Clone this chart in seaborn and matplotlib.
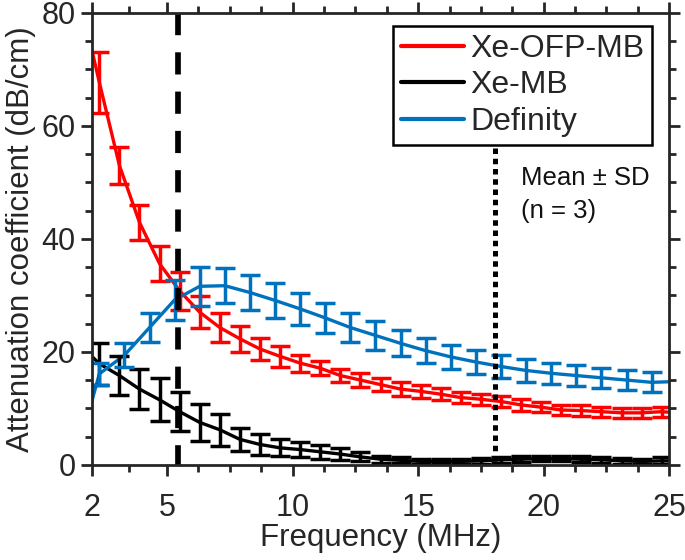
import matplotlib
matplotlib.use('Agg')
import matplotlib.pyplot as plt
from matplotlib.ticker import FixedLocator, MultipleLocator
import pandas as pd
import seaborn as sns

# %% data
freq_rb = [2.3, 3.1, 3.9, 4.7, 5.5, 6.3, 7.1, 7.9, 8.7, 9.5, 10.3, 11.1, 11.9, 12.7, 13.5,
           14.3, 15.1, 15.9, 16.7, 17.5, 18.3, 19.1, 19.9, 20.7, 21.5, 22.3, 23.1, 23.9, 24.7]
ofp_mean = [67.7, 53.0, 42.9, 35.6, 30.8, 27.0, 24.3, 22.3, 20.5, 19.2, 18.0, 17.1, 15.8, 15.0, 14.2,
            13.4, 13.0, 12.5, 11.9, 11.6, 11.2, 10.6, 10.2, 9.7, 9.6, 9.4, 9.2, 9.2, 9.4]
ofp_sd = [5.4, 3.3, 3.1, 3.1, 3.4, 2.8, 2.5, 2.3, 1.9, 1.8, 1.5, 1.2, 1.2, 1.2, 1.2,
          1.2, 1.1, 1.1, 1.0, 1.0, 1.0, 1.0, 0.9, 0.9, 0.9, 0.9, 0.9, 0.9, 0.9]
xemb_mean = [17.9, 15.8, 13.4, 11.5, 9.4, 7.5, 6.2, 4.5, 3.6, 3.0, 2.7, 2.3, 1.9, 1.4, 1.0,
             0.8, 0.6, 0.6, 0.6, 0.7, 0.9, 1.0, 1.1, 1.1, 1.0, 0.9, 0.7, 0.6, 0.7]
xemb_sd = [3.7, 3.5, 3.5, 3.8, 3.5, 3.2, 2.8, 2.1, 1.8, 1.5, 1.3, 1.2, 1.0, 0.8, 0.6,
           0.5, 0.5, 0.5, 0.5, 0.5, 0.5, 0.5, 0.5, 0.5, 0.5, 0.5, 0.5, 0.5, 0.6]
freq_def = [2.3, 3.3, 4.3, 5.3, 6.3, 7.3, 8.3, 9.3, 10.3, 11.3, 12.3, 13.3, 14.3, 15.3,
            16.3, 17.3, 18.3, 19.3, 20.3, 21.3, 22.3, 23.3, 24.3]
def_mean = [16.1, 19.4, 24.3, 29.2, 31.6, 31.7, 30.5, 29.1, 27.6, 26.0, 24.3, 22.9, 21.5, 20.2,
            19.1, 18.2, 17.4, 16.7, 16.2, 15.8, 15.4, 15.0, 14.6]
def_sd = [1.9, 2.1, 2.5, 3.5, 3.5, 3.1, 3.1, 3.1, 2.9, 2.7, 2.5, 2.5, 2.3, 2.2,
          2.1, 2.1, 2.1, 2.0, 1.9, 1.9, 1.8, 1.8, 1.8]
# fitted curve end points at 2 and 25 MHz
curve_start = {'Xe-OFP-MB': 73.5, 'Xe-MB': 19.2, 'Definity': 11.2}
curve_end = {'Xe-OFP-MB': 9.3, 'Xe-MB': 0.7, 'Definity': 14.7}

series = {
    'Xe-OFP-MB': (freq_rb, ofp_mean, ofp_sd),
    'Xe-MB': (freq_rb, xemb_mean, xemb_sd),
    'Definity': (freq_def, def_mean, def_sd),
}
colors = {'Xe-OFP-MB': '#FF0000', 'Xe-MB': '#000000', 'Definity': '#0072BD'}

rows = []
for name, (f, m, s) in series.items():
    rows.append((name, 2.0, curve_start[name]))
    rows += [(name, fi, mi) for fi, mi in zip(f, m)]
    rows.append((name, 25.0, curve_end[name]))
curves = pd.DataFrame(rows, columns=['sample', 'freq', 'atten'])

# %% plot
sns.set_style('ticks')
plt.rcParams['font.family'] = ['Liberation Sans', 'DejaVu Sans']
axcol = '#262626'

fig = plt.figure(figsize=(6.85, 5.6), dpi=100)
ax = fig.add_axes([0.134, 0.170, 0.843, 0.807])

sns.lineplot(data=curves, x='freq', y='atten', hue='sample', palette=colors,
             linewidth=2.4, estimator=None, sort=True, ax=ax)
for name, (f, m, s) in series.items():
    ax.errorbar(f, m, yerr=s, fmt='none', ecolor=colors[name], elinewidth=2.5,
                capsize=7.2, capthick=2.5)

ax.plot([5.43, 5.43], [80, 0], color='k', lw=4.1, ls=(0, (3.9, 3.0)), solid_capstyle='butt')
ax.plot([18.06, 18.06], [56, 0], color='k', lw=3.6, ls=(0, (1.1, 0.95)))

ax.text(19.1, 50.8, 'Mean ± SD', fontsize=18.5, va='center', ha='left', color='#111111')
ax.text(19.1, 45.0, '(n = 3)', fontsize=18.5, va='center', ha='left', color='#111111')

ax.set_xlim(2, 25)
ax.set_ylim(0, 80)
ax.xaxis.set_major_locator(FixedLocator([2, 5, 10, 15, 20, 25]))
ax.xaxis.set_minor_locator(FixedLocator([3.5, 6.25, 7.5, 8.75, 11.25, 12.5, 13.75, 16.25, 17.5,
                                         18.75, 21.25, 22.5, 23.75]))
ax.yaxis.set_major_locator(MultipleLocator(20))
ax.yaxis.set_minor_locator(MultipleLocator(5))
ax.tick_params(which='both', direction='out', top=True, right=True, color=axcol,
               width=2.0, labelsize=22, labelcolor=axcol)
ax.tick_params(which='major', length=8)
ax.tick_params(which='minor', length=5)
ax.tick_params(axis='x', pad=12)
for sp in ax.spines.values():
    sp.set_visible(True)
    sp.set_linewidth(2.0)
    sp.set_color(axcol)

ax.set_xlabel('Frequency (MHz)', fontsize=22.5, color=axcol, labelpad=0)
ax.set_ylabel('Attenuation coefficient (dB/cm)', fontsize=22.5, color=axcol, labelpad=4)

leg = ax.legend(loc='upper right', bbox_to_anchor=(0.9705, 0.971), borderaxespad=0,
                fontsize=23, frameon=True, fancybox=False, framealpha=1, edgecolor='k',
                handlelength=1.95, handletextpad=0.2, labelspacing=0.2, borderpad=0.25)
leg.get_frame().set_linewidth(1.8)
leg.set_title(None)
for line in leg.get_lines():
    line.set_linewidth(3)

fig.savefig('out.png', dpi=100)
